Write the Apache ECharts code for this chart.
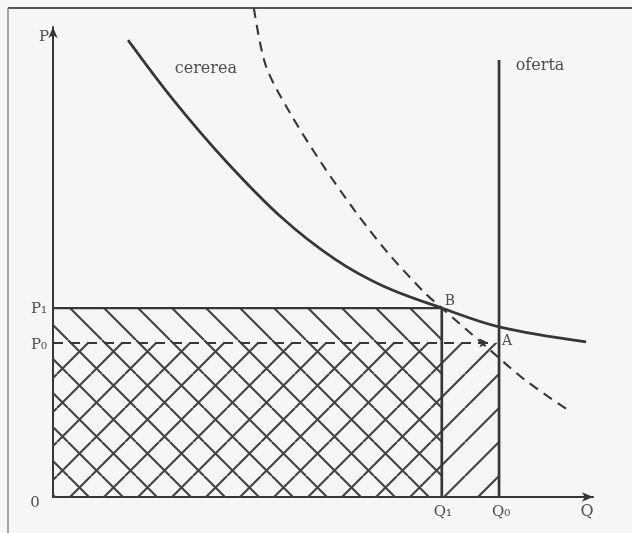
<!DOCTYPE html>
<html><head><meta charset="utf-8">
<script src="https://cdn.jsdelivr.net/npm/echarts/dist/echarts.min.js"></script>
<style>html,body{margin:0;padding:0;background:#f6f6f6}#c{width:632px;height:533px}</style>
</head><body><div id="c"></div>
<script>
// ---- data (Q on x, P on y, arbitrary 0..100 units) ----
const Q1 = 72.0, Q0 = 82.6, P1 = 40.2, P0 = 32.8;
const QA = 80.6;            // end of the P0 dashed guide (near A)
const supplyTop = 93.0;     // top of the vertical supply line "oferta"
const demandQ = [13.9, 22.2, 31.9, 42.4, 52.2, 61.1, 72.0, 82.6, 98.7];
const demandP = [97.2, 84.6, 71.6, 59.4, 50.6, 44.9, 40.2, 36.2, 33.0];
const dashedQ = [37.2, 39.4, 43.9, 49.8, 55.9, 61.9, 68.7, 72.0, 80.9, 87.4, 95.9];
const dashedP = [104.0, 91.8, 81.7, 70.9, 60.9, 52.1, 43.6, 40.2, 31.3, 24.9, 18.1];
const curveLabels = ['cererea', 'oferta'];
const curveLabelQ = [28.3, 85.6];
const curveLabelP = [91.1, 91.7];

const INK = '#363636';
const TXT = '#222';
const FONT = 'DejaVu Serif';

function hatch(dir) {
  const s = 34, c = document.createElement('canvas');
  c.width = s; c.height = s;
  const g = c.getContext('2d');
  g.strokeStyle = '#424242'; g.lineWidth = 2.1;
  for (let k = -1; k <= 1; k++) {
    g.beginPath();
    if (dir > 0) { g.moveTo(k * s, 0); g.lineTo(k * s + s, s); }
    else { const x0 = 23 + k * s; g.moveTo(x0, 0); g.lineTo(x0 - s, s); }
    g.stroke();
  }
  return c;
}
const patBack = hatch(1), patFwd = hatch(-1);

const pts = (qs, ps) => qs.map((q, i) => [q, ps[i]]);

const lbl = (q, p, text, dx, dy, size) => ({
  value: [q, p],
  label: { show: true, formatter: text, position: 'inside', offset: [dx, dy],
           fontFamily: FONT, fontSize: size || 15, color: TXT }
});

const labelData = [
  lbl(0, 100, 'P', -9, 10),
  lbl(0, 0, '0', -18, 6),
  lbl(100, 0, 'Q', -6, 15, 16),
  lbl(0, P1, 'P\u2081', -14, 1),
  lbl(0, P0, 'P\u2080', -14, 2),
  lbl(Q1, 0, 'Q\u2081', 1, 15),
  lbl(Q0, 0, 'Q\u2080', 2, 15),
  lbl(Q1, P1, 'B', 8, -7, 14),
  lbl(Q0, P0, 'A', 8, -1, 14),
  lbl(curveLabelQ[0], curveLabelP[0], curveLabels[0], 0, 0, 16),
  { value: [curveLabelQ[1], curveLabelP[1]],
    label: { show: true, formatter: curveLabels[1], position: 'right', distance: 0,
             fontFamily: FONT, fontSize: 16, color: TXT } }
];

const chart = echarts.init(document.getElementById('c'), null, { renderer: 'canvas' });
const axisCommon = {
  type: 'value', min: 0, max: 100,
  splitLine: { show: false }, axisTick: { show: false }, axisLabel: { show: false },
  axisLine: { show: true, onZero: false, symbol: ['none', 'arrow'], symbolSize: [7, 11],
              lineStyle: { color: INK, width: 2 } }
};
chart.setOption({
  backgroundColor: '#f6f6f6',
  animation: false,
  grid: { left: 53, right: 39, top: 27, bottom: 36 },
  xAxis: axisCommon,
  yAxis: axisCommon,
  graphic: [
    { type: 'line', shape: { x1: 8, y1: 8, x2: 632, y2: 8 }, style: { stroke: '#555', lineWidth: 2 } },
    { type: 'line', shape: { x1: 8, y1: 8, x2: 8, y2: 533 }, style: { stroke: '#888', lineWidth: 1.5 } }
  ],
  series: [
    {
      type: 'custom', silent: true, z: 1,
      data: [[Q1, P1, 1], [Q0, P0, -1]],
      renderItem(params, api) {
        const q = api.value(0), p = api.value(1), dir = api.value(2);
        const o = api.coord([0, 0]), t = api.coord([q, p]);
        return { type: 'rect',
          shape: { x: o[0], y: t[1], width: t[0] - o[0], height: o[1] - t[1] },
          style: { fill: { image: dir > 0 ? patBack : patFwd, repeat: 'repeat' }, stroke: null } };
      }
    },
    { type: 'line', data: pts(demandQ, demandP), smooth: 0.35, symbol: 'none', z: 3,
      lineStyle: { color: INK, width: 2.7 } },
    { type: 'line', data: pts(dashedQ, dashedP), smooth: 0.3, symbol: 'none', clip: false, z: 3,
      lineStyle: { color: INK, width: 2.1, type: [10, 7] } },
    { type: 'line', data: [[Q0, 0], [Q0, supplyTop]], symbol: 'none', z: 3,
      lineStyle: { color: INK, width: 2.7 } },
    { type: 'line', data: [[Q1, 0], [Q1, P1]], symbol: 'none', z: 3,
      lineStyle: { color: INK, width: 2.7 } },
    { type: 'line', data: [[0, P1], [Q1, P1]], symbol: 'none', z: 3,
      lineStyle: { color: INK, width: 2.3 },
      markLine: { silent: true, symbol: ['none', 'arrow'], symbolSize: [7, 9], label: { show: false },
        lineStyle: { color: INK, width: 1.9, type: [10, 7] },
        data: [[{ coord: [0, P0] }, { coord: [QA, P0] }]] } },
    { type: 'scatter', data: labelData, symbolSize: 1, itemStyle: { color: 'rgba(0,0,0,0)' }, z: 5 }
  ]
});
</script>
</body></html>
